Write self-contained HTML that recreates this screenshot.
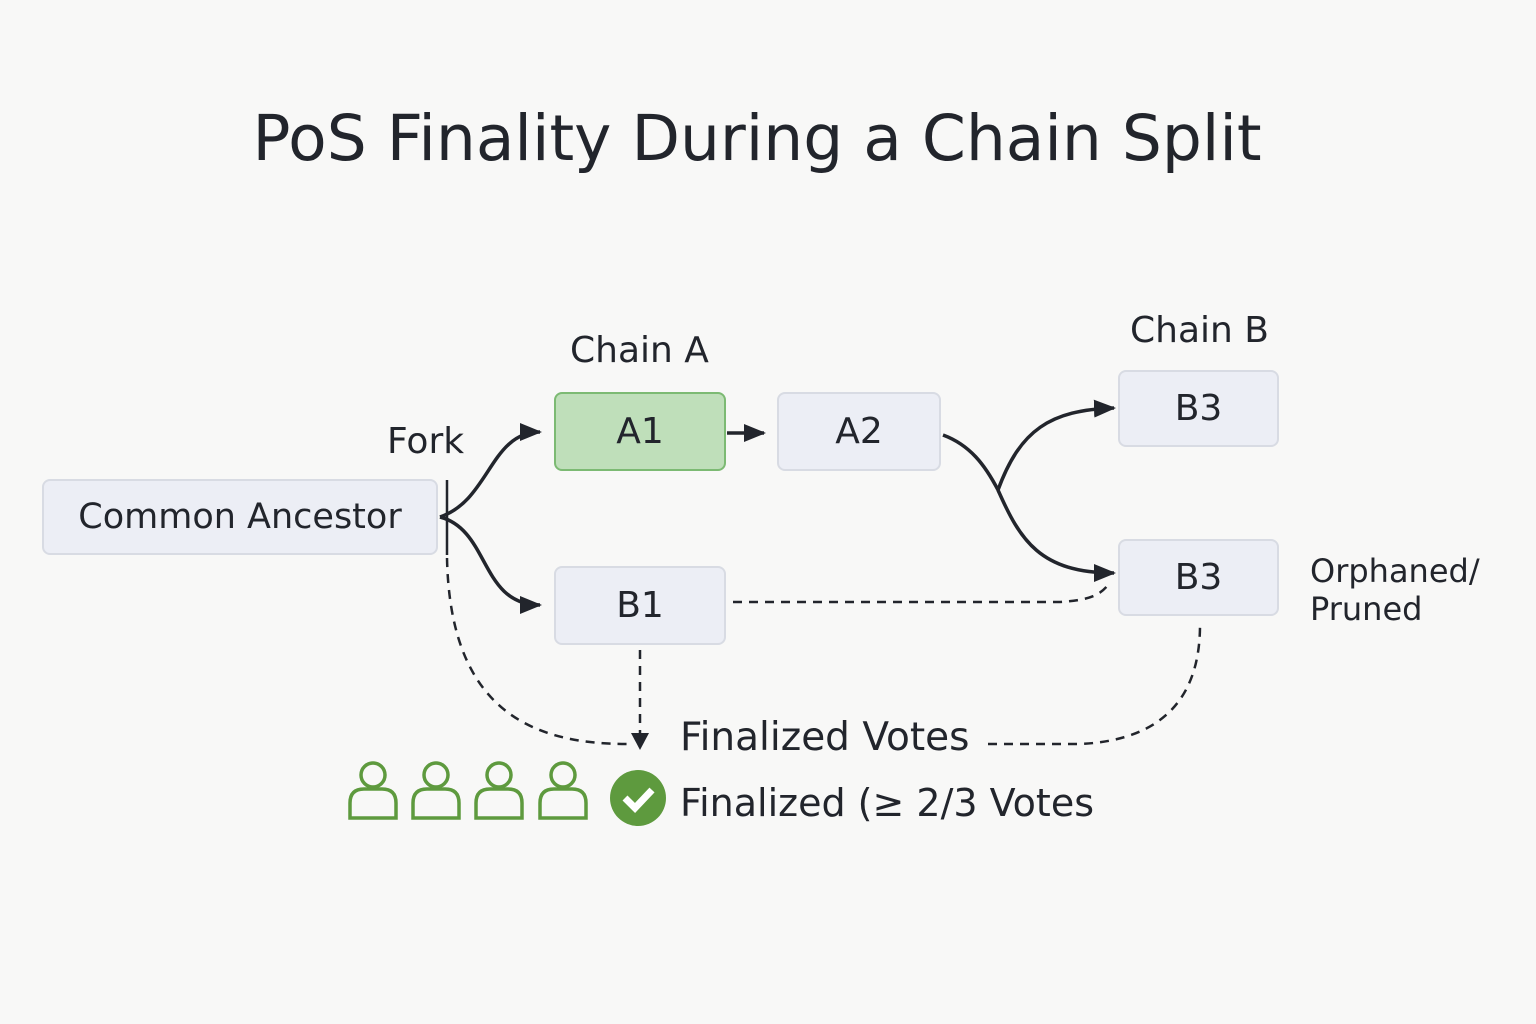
<!DOCTYPE html>
<html><head><meta charset="utf-8"><style>
html,body{margin:0;padding:0;background:#f8f8f7;}
body{width:1536px;height:1024px;position:relative;overflow:hidden;font-family:"DejaVu Sans","Liberation Sans",sans-serif;color:#22252c;}
.t{position:absolute;white-space:nowrap;}
.box{position:absolute;box-sizing:border-box;background:#eceef5;border:2px solid #d8dbe3;border-radius:8px;display:flex;align-items:center;justify-content:center;font-size:36px;}
</style></head><body>
<div class="t" style="left:0;width:1514px;text-align:center;top:102px;font-size:63px;">PoS Finality During a Chain Split</div>
<div class="t" style="left:570px;top:330px;font-size:36px;">Chain A</div>
<div class="t" style="left:1130px;top:310px;font-size:36px;">Chain B</div>
<div class="t" style="left:387px;top:421px;font-size:36px;">Fork</div>
<div class="t" style="left:1310px;top:552px;font-size:32px;line-height:38px;">Orphaned/<br>Pruned</div>
<div class="box" style="left:42px;top:479px;width:396px;height:76px;font-size:35px;">Common Ancestor</div>
<div class="box" style="left:554px;top:392px;width:172px;height:79px;background:#bfdfba;border-color:#7cba73;">A1</div>
<div class="box" style="left:777px;top:392px;width:164px;height:79px;">A2</div>
<div class="box" style="left:554px;top:566px;width:172px;height:79px;">B1</div>
<div class="box" style="left:1118px;top:370px;width:161px;height:77px;">B3</div>
<div class="box" style="left:1118px;top:539px;width:161px;height:77px;">B3</div>
<svg width="1536" height="1024" style="position:absolute;left:0;top:0">
<defs>
<marker id="b" markerWidth="22" markerHeight="22" refX="20" refY="11" orient="auto" markerUnits="userSpaceOnUse"><path d="M0,2 L22,11 L0,20z" fill="#22252c"/></marker></defs>
<g stroke="#22252c" stroke-width="3.5" fill="none">
<line x1="447" y1="480" x2="447" y2="555" stroke-width="2.5"/>
<path d="M440,517 C490,500 490,432 540,432" marker-end="url(#b)"/>
<path d="M440,517 C490,530 480,605 540,605" marker-end="url(#b)"/>
<path d="M727,433 L764,433" marker-end="url(#b)"/>
<path d="M943,435 C970,445 985,465 998,490 C1020,430 1050,410 1114,408" marker-end="url(#b)"/>
<path d="M998,490 C1020,540 1040,573 1114,573" marker-end="url(#b)"/>
</g>
<g stroke="#22252c" stroke-width="2.5" fill="none" stroke-dasharray="9,7">
<path d="M733,602 L1060,602 C1090,600 1100,595 1108,585"/>
<path d="M447,558 C450,700 520,745 630,744"/>
<path d="M640,650 L640,735"/>
<path d="M988,744 L1080,744 C1170,740 1200,690 1200,625"/>
</g>
<path d="M631,733 L649,733 L640,750z" fill="#22252c"/>
<g stroke="#5e9a3e" stroke-width="3.5" fill="none">
<circle cx="373" cy="775" r="12"/><path d="M350,818 V803 Q350,789 364,789 H382 Q396,789 396,803 V818 Z"/>
<circle cx="436" cy="775" r="12"/><path d="M413,818 V803 Q413,789 427,789 H445 Q459,789 459,803 V818 Z"/>
<circle cx="499" cy="775" r="12"/><path d="M476,818 V803 Q476,789 490,789 H508 Q522,789 522,803 V818 Z"/>
<circle cx="563" cy="775" r="12"/><path d="M540,818 V803 Q540,789 554,789 H572 Q586,789 586,803 V818 Z"/>
</g>
<circle cx="638" cy="798" r="28" fill="#5e9a3e"/>
<path d="M625,798 L635,808 L652,790" stroke="#fff" stroke-width="7" fill="none"/>
</svg>
<div class="t" style="left:680px;top:715px;font-size:39px;">Finalized Votes</div>
<div class="t" style="left:680px;top:781px;font-size:38px;">Finalized (≥ 2/3 Votes</div>
</body></html>
